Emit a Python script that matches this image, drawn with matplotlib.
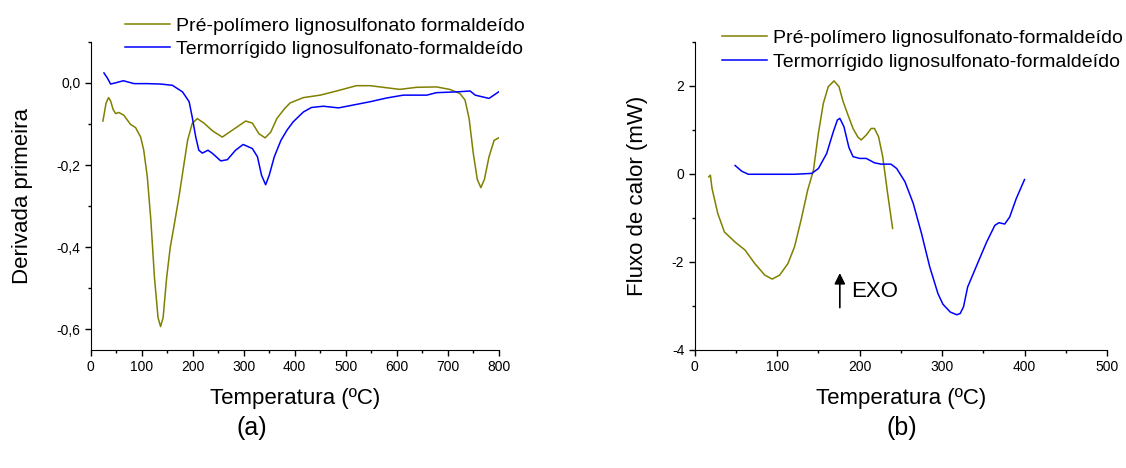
import matplotlib
matplotlib.use('Agg')
import matplotlib.pyplot as plt
from matplotlib.ticker import MultipleLocator, FuncFormatter

plt.rcParams['font.family'] = ['Liberation Sans', 'DejaVu Sans']
plt.rcParams['axes.unicode_minus'] = False

# (a) derivada primeira (DTG)
t_pre_a = [24, 30, 35, 39, 44, 49, 55, 65, 78, 88, 98, 104, 111, 118, 125, 132, 137, 142,
           149, 156, 163, 173, 182, 190, 199, 209, 222, 239, 258, 278, 304, 317, 330, 342,
           353, 365, 380, 391, 417, 450, 482, 521, 548, 580, 606, 639, 678, 704, 724, 734,
           742, 750, 758, 765, 772, 781, 791, 800]
d_pre_a = [-0.093, -0.05, -0.036, -0.044, -0.065, -0.075, -0.072, -0.079, -0.101, -0.109,
           -0.132, -0.164, -0.229, -0.335, -0.473, -0.571, -0.593, -0.571, -0.473, -0.40,
           -0.351, -0.278, -0.205, -0.14, -0.099, -0.087, -0.098, -0.117, -0.132, -0.115,
           -0.093, -0.098, -0.124, -0.134, -0.12, -0.087, -0.063, -0.049, -0.036, -0.030,
           -0.020, -0.007, -0.007, -0.012, -0.016, -0.011, -0.010, -0.016, -0.026, -0.042,
           -0.087, -0.17, -0.235, -0.255, -0.235, -0.18, -0.14, -0.134]

t_ter_a = [26, 33, 39, 49, 64, 85, 111, 137, 160, 180, 193, 199, 206, 212, 219, 230, 239,
           255, 268, 284, 299, 317, 327, 335, 343, 350, 360, 373, 385, 397, 417, 433, 456,
           486, 515, 548, 580, 613, 659, 678, 718, 744, 754, 781, 800]
d_ter_a = [0.024, 0.011, -0.003, 0.0, 0.005, -0.002, -0.002, -0.003, -0.006, -0.022,
           -0.046, -0.083, -0.132, -0.164, -0.171, -0.164, -0.172, -0.19, -0.187, -0.164,
           -0.15, -0.16, -0.18, -0.225, -0.248, -0.225, -0.18, -0.14, -0.115, -0.095,
           -0.071, -0.060, -0.057, -0.061, -0.054, -0.046, -0.037, -0.030, -0.030, -0.024,
           -0.022, -0.020, -0.030, -0.038, -0.022]

# (b) DSC
t_pre_b = [17, 19, 21, 28, 36, 49, 61, 73, 85, 94, 103, 113, 121, 129, 137, 144, 150,
           156, 162, 169, 175, 180, 186, 192, 198, 202, 208, 214, 218, 223, 228, 234, 240]
q_pre_b = [-0.07, -0.03, -0.33, -0.9, -1.32, -1.55, -1.73, -2.04, -2.30, -2.39, -2.30,
           -2.04, -1.66, -1.05, -0.37, 0.08, 0.92, 1.60, 1.98, 2.11, 1.98, 1.64, 1.33,
           1.03, 0.83, 0.77, 0.88, 1.03, 1.03, 0.84, 0.39, -0.45, -1.24]

t_ter_b = [49, 57, 65, 81, 101, 121, 142, 150, 160, 168, 173, 176, 181, 187, 192, 200,
           208, 218, 226, 238, 245, 255, 265, 275, 285, 295, 301, 310, 318, 322, 326, 331,
           342, 354, 364, 369, 376, 382, 390, 400]
q_ter_b = [0.19, 0.06, -0.01, -0.01, -0.01, -0.01, 0.01, 0.12, 0.46, 0.95, 1.22, 1.26,
           1.07, 0.60, 0.39, 0.35, 0.35, 0.25, 0.22, 0.22, 0.12, -0.18, -0.67, -1.35,
           -2.11, -2.72, -2.96, -3.14, -3.20, -3.17, -3.02, -2.57, -2.08, -1.55, -1.17,
           -1.11, -1.14, -0.98, -0.56, -0.13]

olive = '#808000'
blue = '#0000ff'

fig = plt.figure(figsize=(11.26, 4.68), dpi=100)
ax1 = fig.add_axes([0.08055, 0.25214, 0.36234, 0.65876])
ax2 = fig.add_axes([0.61696, 0.25214, 0.36616, 0.65876])

ax1.plot(t_pre_a, d_pre_a, color=olive, lw=1.1, label='Pré-polímero lignosulfonato formaldeído')
ax1.plot(t_ter_a, d_ter_a, color=blue, lw=1.1, label='Termorrígido lignosulfonato-formaldeído')
ax1.set_xlim(0, 800)
ax1.set_ylim(-0.65, 0.1)
ax1.xaxis.set_major_locator(MultipleLocator(100))
ax1.xaxis.set_minor_locator(MultipleLocator(50))
ax1.yaxis.set_major_locator(MultipleLocator(0.2))
ax1.yaxis.set_minor_locator(MultipleLocator(0.1))
ax1.yaxis.set_major_formatter(FuncFormatter(lambda v, p: f'{round(v, 1) + 0.0:.1f}'.replace('.', ',')))
ax1.set_xlabel('Temperatura (ºC)', fontsize=16)
ax1.set_ylabel('Derivada primeira', fontsize=16)
ax1.yaxis.set_label_coords(-0.141, 0.5)
ax1.xaxis.set_label_coords(0.5, -0.122)

ax2.plot(t_pre_b, q_pre_b, color=olive, lw=1.1, label='Pré-polímero lignosulfonato-formaldeído')
ax2.plot(t_ter_b, q_ter_b, color=blue, lw=1.1, label='Termorrígido lignosulfonato-formaldeído')
ax2.set_xlim(0, 500)
ax2.set_ylim(-4, 3)
ax2.xaxis.set_major_locator(MultipleLocator(100))
ax2.xaxis.set_minor_locator(MultipleLocator(50))
ax2.yaxis.set_major_locator(MultipleLocator(2))
ax2.yaxis.set_minor_locator(MultipleLocator(1))
ax2.set_xlabel('Temperatura (ºC)', fontsize=16)
ax2.set_ylabel('Fluxo de calor (mW)', fontsize=16)
ax2.yaxis.set_label_coords(-0.113, 0.5)
ax2.xaxis.set_label_coords(0.5, -0.122)
ax2.annotate('', xy=(176, -2.19), xytext=(176, -3.1),
             arrowprops=dict(arrowstyle='-|>', color='black', lw=1.2, mutation_scale=16))
ax2.text(190, -2.67, 'EXO', fontsize=16, va='center', ha='left')

for ax in (ax1, ax2):
    ax.spines['top'].set_visible(False)
    ax.spines['right'].set_visible(False)
    ax.tick_params(which='major', direction='out', length=4, width=1, labelsize=10)
    ax.tick_params(which='minor', direction='out', length=2.5, width=1)

ax1.legend(loc='upper left', bbox_to_anchor=(125 / 1126, 1 - 17 / 468),
           bbox_transform=fig.transFigure, frameon=False, fontsize=14,
           handlelength=2.3, handletextpad=0.3, labelspacing=0.3,
           borderpad=0, borderaxespad=0)
ax2.legend(loc='upper left', bbox_to_anchor=(722 / 1126, 1 - 29 / 468),
           bbox_transform=fig.transFigure, frameon=False, fontsize=14,
           handlelength=2.3, handletextpad=0.3, labelspacing=0.36,
           borderpad=0, borderaxespad=0)

fig.text(252 / 1126, 1 - 428 / 468, '(a)', fontsize=18, ha='center', va='center')
fig.text(902 / 1126, 1 - 428 / 468, '(b)', fontsize=18, ha='center', va='center')

fig.savefig('out.png', dpi=100)
